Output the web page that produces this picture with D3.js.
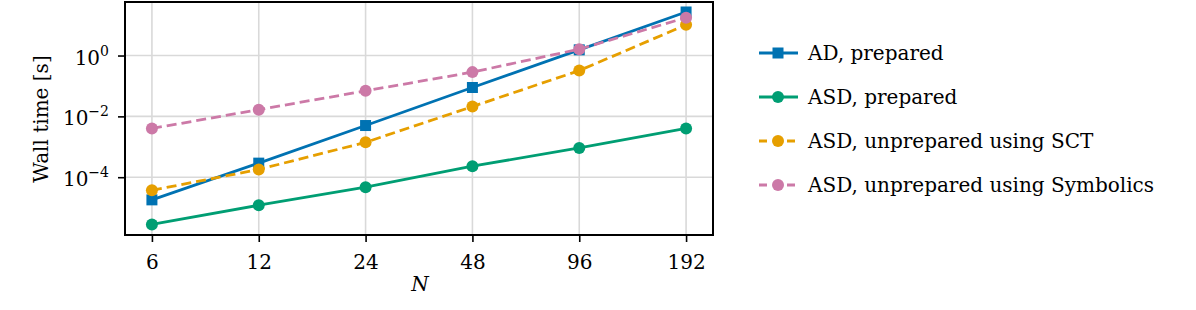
<!DOCTYPE html>
<html>
<head>
<meta charset="utf-8">
<script src="https://cdn.jsdelivr.net/npm/d3@7"></script>
<style>
  body { margin: 0; background: #fff; }
  text { font-family: "DejaVu Serif", "Liberation Serif", serif; fill: #000; }
</style>
</head>
<body>
<svg id="chart" width="1196" height="310"></svg>
<script>
// data
var sizes = [6, 12, 24, 48, 96, 192];
var adPrepared = [1.8e-5, 2.9e-4, 5.0e-3, 0.089, 1.54, 27];
var asdPrepared = [2.8e-6, 1.2e-5, 4.7e-5, 2.3e-4, 9.2e-4, 4.0e-3];
var asdSct = [3.7e-5, 1.8e-4, 1.4e-3, 0.021, 0.32, 10.2];
var asdSymbolics = [4.0e-3, 0.0166, 0.069, 0.285, 1.62, 17.6];
var yTicks = [1e-4, 1e-2, 1e0];

var series = [
  { name: "AD, prepared", values: adPrepared, color: "#0072B2", marker: "square", dashed: false },
  { name: "ASD, prepared", values: asdPrepared, color: "#009E73", marker: "circle", dashed: false },
  { name: "ASD, unprepared using SCT", values: asdSct, color: "#E69F00", marker: "circle", dashed: true },
  { name: "ASD, unprepared using Symbolics", values: asdSymbolics, color: "#CC79A7", marker: "circle", dashed: true }
];

var svg = d3.select("#chart");
var fontSize = 20;
var lineW = 2.8;
var plotLeft = 125, plotRight = 713, plotTop = 2, plotBottom = 235;

// log2 x axis, padded a quarter doubling each side
var x = d3.scaleLog().base(2)
  .domain([6 / Math.pow(2, 0.252), 192 * Math.pow(2, 0.252)])
  .range([plotLeft, plotRight]);
var y = d3.scaleLog()
  .domain([Math.pow(10, -5.9), Math.pow(10, 1.76)])
  .range([plotBottom, plotTop]);

// grid
var grid = svg.append("g");
grid.selectAll("line.gx").data(sizes).enter().append("line")
  .attr("x1", function(d) { return x(d); }).attr("x2", function(d) { return x(d); })
  .attr("y1", plotTop).attr("y2", plotBottom)
  .attr("stroke", "#d9d9d9").attr("stroke-width", 1.6);
grid.selectAll("line.gy").data(yTicks).enter().append("line")
  .attr("y1", function(d) { return y(d); }).attr("y2", function(d) { return y(d); })
  .attr("x1", plotLeft).attr("x2", plotRight)
  .attr("stroke", "#d9d9d9").attr("stroke-width", 1.6);

// axes
var xAxis = d3.axisBottom(x).tickValues(sizes).tickFormat(d3.format("d")).tickSize(7).tickPadding(13);
var gx = svg.append("g").attr("transform", "translate(0," + plotBottom + ")").call(xAxis);
gx.select(".domain").remove();
gx.selectAll(".tick line").attr("stroke", "#000").attr("stroke-width", 1.6);
gx.selectAll(".tick text").attr("font-size", fontSize).attr("font-family", null);

var yAxis = d3.axisLeft(y).tickValues(yTicks).tickFormat("").tickSize(7);
var gy = svg.append("g").attr("transform", "translate(" + plotLeft + ",0)").call(yAxis);
gy.select(".domain").remove();
gy.selectAll(".tick line").attr("stroke", "#000").attr("stroke-width", 1.6);

// y tick labels 10^k
yTicks.forEach(function(t) {
  var e = Math.round(Math.log10(t));
  var lab = svg.append("text")
    .attr("x", 109).attr("y", y(t) + 9)
    .attr("text-anchor", "end").attr("font-size", fontSize);
  lab.append("tspan").text("10");
  lab.append("tspan").attr("dy", -9).attr("font-size", 14).text(e === 0 ? "0" : "\u2212" + Math.abs(e));
});

// frame
svg.append("rect").attr("x", plotLeft).attr("y", plotTop)
  .attr("width", plotRight - plotLeft).attr("height", plotBottom - plotTop)
  .attr("fill", "none").attr("stroke", "#000").attr("stroke-width", 2);

// lines and markers
var line = d3.line()
  .x(function(d, i) { return x(sizes[i]); })
  .y(function(d) { return y(d); });

var drawMarker = function(g, s, cx, cy) {
  if (s.marker === "square") {
    g.append("rect").attr("x", cx - 5.5).attr("y", cy - 5.5).attr("width", 11).attr("height", 11).attr("fill", s.color);
  } else {
    g.append("circle").attr("cx", cx).attr("cy", cy).attr("r", 6).attr("fill", s.color);
  }
};

var plot = svg.append("g");
series.forEach(function(s) {
  var g = plot.append("g");
  g.append("path").datum(s.values)
    .attr("d", line)
    .attr("fill", "none")
    .attr("stroke", s.color)
    .attr("stroke-width", lineW)
    .attr("stroke-dasharray", s.dashed ? "10,5" : null);
  s.values.forEach(function(v, i) {
    drawMarker(g, s, x(sizes[i]), y(v));
  });
});

// axis titles
svg.append("text").attr("x", 420).attr("y", 291)
  .attr("text-anchor", "middle").attr("font-size", fontSize).attr("font-style", "italic").text("N");
svg.append("text").attr("transform", "translate(48,119) rotate(-90)")
  .attr("text-anchor", "middle").attr("font-size", fontSize).text("Wall time [s]");

// legend
var legend = svg.append("g");
series.forEach(function(s, i) {
  var ly = 53 + i * 44;
  legend.append("line").attr("x1", 759).attr("x2", 798).attr("y1", ly).attr("y2", ly)
    .attr("stroke", s.color).attr("stroke-width", lineW)
    .attr("stroke-dasharray", s.dashed ? "8,6" : null);
  drawMarker(legend, s, 778, ly);
  legend.append("text").attr("x", 808).attr("y", ly + 7).attr("font-size", fontSize).text(s.name);
});
</script>
</body>
</html>
